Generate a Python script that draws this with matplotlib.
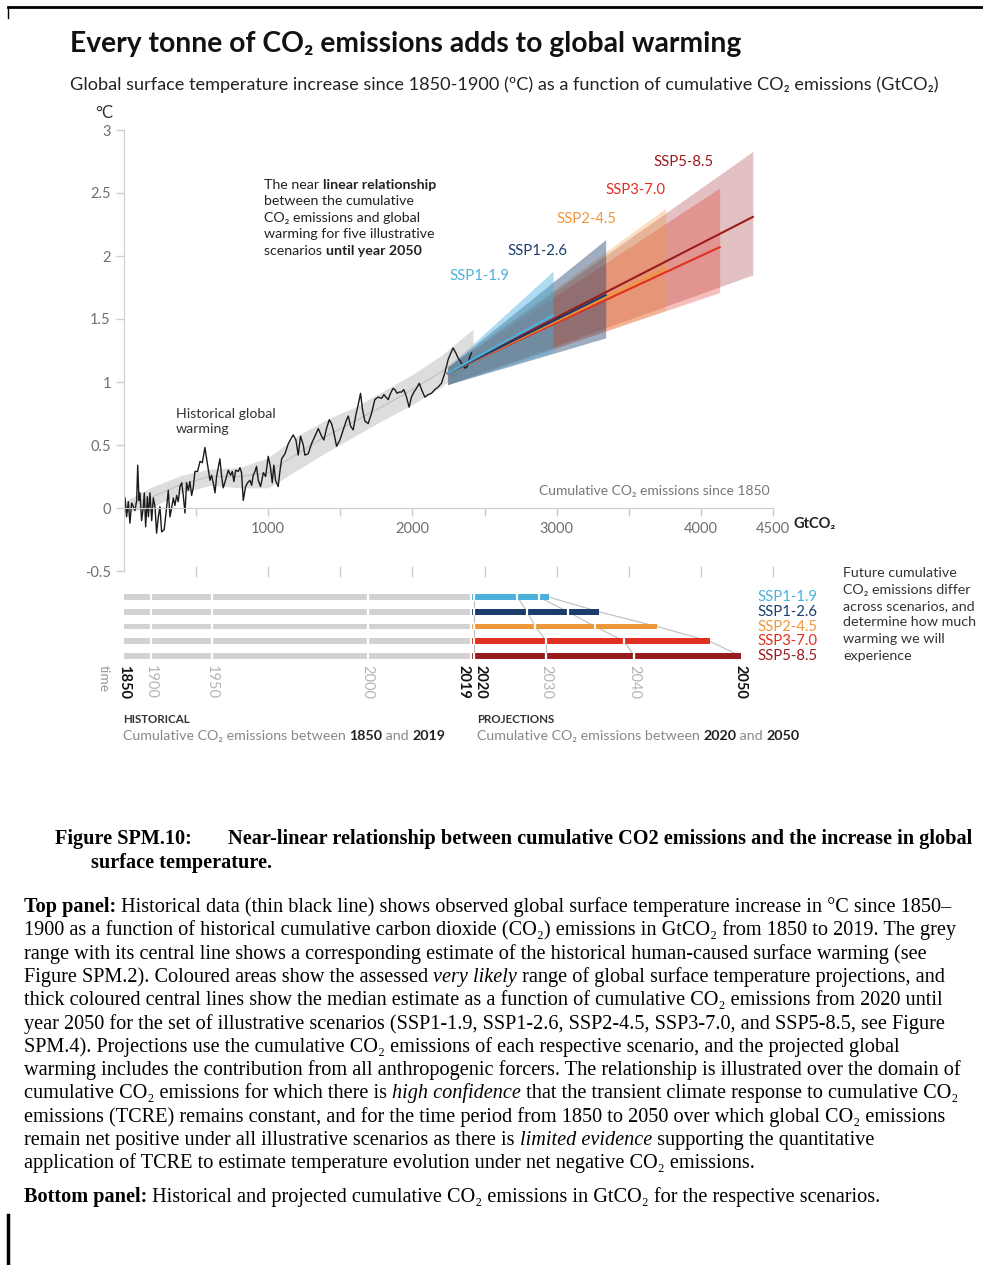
import matplotlib.pyplot as plt

plt.rcParams['font.family'] = ['Lato', 'DejaVu Sans']

# observed warming (degC) against cumulative CO2 emissions since 1850 (GtCO2)
hist_cum = [7, 18, 30, 41, 53, 65, 76, 88, 95, 104, 111, 122, 134, 141, 150, 162, 169, 180, 192, 203,
            215, 226, 238, 249, 261, 279, 296, 307, 319, 342, 353, 365, 376, 388, 400, 411, 423, 434, 446, 457,
            469, 480, 492, 510, 527, 543, 561, 580, 596, 607, 619, 631, 642, 665, 677, 688, 704, 723, 739, 751,
            762, 774, 792, 804, 815, 827, 843, 857, 873, 885, 896, 908, 919, 931, 947, 966, 982, 1000, 1016, 1028,
            1039, 1051, 1069, 1081, 1093, 1116, 1139, 1173, 1192, 1208, 1224, 1243, 1254, 1277, 1300, 1324, 1347, 1370, 1386, 1404,
            1423, 1439, 1451, 1474, 1497, 1520, 1543, 1555, 1571, 1589, 1608, 1624, 1640, 1654, 1670, 1693, 1716, 1739, 1762, 1786,
            1802, 1816, 1832, 1848, 1866, 1878, 1894, 1908, 1924, 1940, 1959, 1977, 1993, 2010, 2028, 2047, 2063, 2086, 2109, 2132,
            2155, 2178, 2201, 2224, 2248, 2266, 2282, 2301, 2317, 2340, 2363, 2379, 2398, 2409]
hist_temp = [0.08, -0.07, 0.05, -0.12, 0.04, 0.01, -0.02, 0.06, 0.34, 0.06, 0.12, -0.10, 0.01, 0.12, -0.15, 0.09, -0.07, 0.12, -0.10, 0.08,
             0.01, -0.20, -0.07, 0.01, -0.19, -0.17, 0.01, 0.14, -0.07, 0.08, 0.02, 0.10, 0.05, 0.17, 0.20, 0.10, -0.04, 0.20, 0.14, 0.21,
             0.10, 0.16, 0.29, 0.29, 0.37, 0.36, 0.48, 0.34, 0.22, 0.26, 0.20, 0.12, 0.25, 0.39, 0.25, 0.16, 0.22, 0.30, 0.26, 0.29,
             0.21, 0.30, 0.29, 0.32, 0.28, 0.06, 0.17, 0.20, 0.22, 0.18, 0.26, 0.29, 0.33, 0.22, 0.17, 0.28, 0.25, 0.41, 0.32, 0.20,
             0.34, 0.22, 0.17, 0.29, 0.39, 0.43, 0.51, 0.58, 0.54, 0.42, 0.57, 0.50, 0.42, 0.43, 0.51, 0.57, 0.63, 0.57, 0.54, 0.63,
             0.70, 0.67, 0.62, 0.49, 0.54, 0.62, 0.70, 0.73, 0.65, 0.62, 0.74, 0.82, 0.91, 0.78, 0.69, 0.67, 0.75, 0.86, 0.88, 0.87,
             0.90, 0.88, 0.86, 0.91, 0.95, 0.94, 0.91, 0.92, 0.92, 0.94, 0.88, 0.80, 0.88, 0.92, 0.95, 0.99, 0.94, 0.88, 0.90, 0.91,
             0.94, 0.96, 0.99, 1.07, 1.18, 1.23, 1.27, 1.23, 1.19, 1.15, 1.11, 1.12, 1.20, 1.23]

# human-caused warming estimate (grey range and central line)
band_cum = [0, 200, 400, 600, 800, 1000, 1200, 1400, 1600, 1800, 2000, 2200, 2420]
band_low = [-0.04, 0.01, 0.12, 0.18, 0.16, 0.16, 0.30, 0.44, 0.57, 0.70, 0.82, 0.96, 1.17]
band_mid = [0.00, 0.09, 0.19, 0.25, 0.25, 0.28, 0.43, 0.57, 0.69, 0.81, 0.94, 1.08, 1.28]
band_high = [0.05, 0.17, 0.26, 0.31, 0.32, 0.40, 0.57, 0.70, 0.80, 0.93, 1.06, 1.21, 1.42]

# projections 2020-2050
scenarios = ['SSP1-1.9', 'SSP1-2.6', 'SSP2-4.5', 'SSP3-7.0', 'SSP5-8.5']
colors = ['#4cb1dc', '#1c3c6c', '#f0963a', '#e0301f', '#981b1e']
fan_alpha = [0.45, 0.42, 0.3, 0.3, 0.27]
proj_start = 2245
start_low, start_mid, start_high = 0.98, 1.07, 1.12
proj_end = [2975, 3340, 3756, 4130, 4360]
end_low = [1.24, 1.35, 1.57, 1.71, 1.85]
end_mid = [1.53, 1.69, 1.90, 2.07, 2.31]
end_high = [1.88, 2.13, 2.38, 2.54, 2.83]
label_cum = [2467, 2869, 3209, 3548, 3881]
label_temp = [1.84, 2.04, 2.29, 2.52, 2.75]

# bottom panel: cumulative emissions reached at each year
hist_years = ['1850', '1900', '1950', '2000', '2019']
hist_year_cum = [0, 185, 610, 1690, 2400]
cum_2020 = 2430
cum_2030 = [2728, 2795, 2853, 2929, 2929]
cum_2040 = [2876, 3079, 3266, 3470, 3537]
cum_2050 = [2945, 3294, 3696, 4061, 4276]

W, H = 983, 1265
fig = plt.figure(figsize=(W / 100, H / 100), dpi=100)

# full-figure layer in pixel coordinates for text and page edges
bg = fig.add_axes([0, 0, 1, 1])
bg.set_xlim(0, W)
bg.set_ylim(H, 0)
bg.axis('off')


def box(l, t, r, b):
    return [l / W, 1 - b / H, (r - l) / W, (b - t) / H]


def rich(x, y, parts, **kw):
    prev = None
    for s, style in parts:
        props = dict(kw)
        props.update(style)
        if prev is None:
            prev = bg.text(x, y, s, va='baseline', ha='left', **props)
        else:
            prev = bg.annotate(s, xy=(1, y), xycoords=(prev, 'data'), va='baseline', ha='left', **props)
    return prev


N = {}
B = {'weight': 'bold'}
I = {'style': 'italic'}

# page edges
bg.plot([8, W], [7, 7], color='black', lw=2)
bg.plot([8, 8], [7, 18], color='black', lw=1)
bg.plot([8, 8], [1215, H], color='black', lw=2.5)

# headings
bg.text(70, 52, 'Every tonne of CO₂ emissions adds to global warming', fontsize=20.3, weight='bold', color='#111111')
bg.text(70, 90, 'Global surface temperature increase since 1850-1900 (ºC) as a function of cumulative CO₂ emissions (GtCO₂)',
        fontsize=13.1, color='#222222')

# ---------------- top panel ----------------
ax = fig.add_axes(box(124, 130, 773, 571))
ax.set_facecolor('none')
ax.set_xlim(0, 4500)
ax.set_ylim(-0.5, 3)
for s in ['top', 'right']:
    ax.spines[s].set_visible(False)
ax.spines['left'].set_color('#cccccc')
ax.spines['bottom'].set_color('#cccccc')
ax.spines['bottom'].set_position(('data', 0))
ax.spines['bottom'].set_bounds(0, 4500)

yt = [-0.5, 0, 0.5, 1, 1.5, 2, 2.5, 3]
ax.set_yticks(yt)
ax.set_yticklabels(['-0.5', '0', '0.5', '1', '1.5', '2', '2.5', '3'])
xt = [500, 1000, 1500, 2000, 2500, 3000, 3500, 4000, 4500]
ax.set_xticks(xt)
ax.set_xticklabels(['', '1000', '', '2000', '', '3000', '', '4000', '4500'])
ax.tick_params(colors='#cccccc', labelcolor='#6f6f6f', labelsize=10.5, length=6, width=1)
ax.tick_params(axis='x', pad=4)
ax.vlines(xt, -0.46, -0.55, color='#cccccc', lw=1, clip_on=False)

ax.fill_between(band_cum, band_low, band_high, color='#dddddd', lw=0)
ax.plot(band_cum, band_mid, color='#c4c4c4', lw=1)
ax.plot(hist_cum, hist_temp, color='#1a1a1a', lw=1)

for i in reversed(range(5)):
    ax.fill_between([proj_start, proj_end[i]], [start_low, end_low[i]], [start_high, end_high[i]],
                    color=colors[i], alpha=fan_alpha[i], lw=0)
for i in reversed(range(5)):
    ax.plot([proj_start, proj_end[i]], [start_mid, end_mid[i]], color=colors[i], lw=1.5)
    ax.text(label_cum[i], label_temp[i], scenarios[i], color=colors[i], fontsize=10.7, ha='center', va='center')

ax.text(-75, 3.07, '°C', fontsize=12, color='#333333', ha='right', va='bottom', clip_on=False)
ax.text(4640, -0.13, 'GtCO₂', fontsize=10.5, weight='bold', color='#222222', ha='left', va='center', clip_on=False)
ax.text(4480, 0.09, 'Cumulative CO₂ emissions since 1850', fontsize=10, color='#777777', ha='right', va='bottom')
ax.text(360, 0.69, 'Historical global\nwarming', fontsize=10.2, color='#333333', linespacing=1.3, va='center')

for k, line in enumerate([
        [('The near ', N), ('linear relationship', B)],
        [('between the cumulative', N)],
        [('CO₂ emissions and global', N)],
        [('warming for five illustrative', N)],
        [('scenarios ', N), ('until year 2050', B)]]):
    rich(264, 189 + 16.4 * k, line, fontsize=10.2, color='#222222')

# ---------------- bottom panel ----------------
axb = fig.add_axes(box(124, 582, 773, 700))
axb.set_facecolor('none')
axb.set_xlim(0, 4500)
axb.set_ylim(6.98, -1.02)
axb.axis('off')

rows = list(range(5))
bh = 0.38
for r in rows:
    axb.barh(r, hist_year_cum[-1], left=0, height=bh, color='#d2d2d2', lw=0)
    axb.barh(r, cum_2050[r] - hist_year_cum[-1] - 10, left=hist_year_cum[-1] + 10, height=bh, color=colors[r], lw=0)
    for c in hist_year_cum[1:-1] + [cum_2020, cum_2030[r], cum_2040[r]]:
        axb.vlines(c, r - bh / 2 - 0.05, r + bh / 2 + 0.05, color='white', lw=1.6)
    axb.text(4394, r, scenarios[r], color=colors[r], fontsize=10.7, ha='left', va='center', clip_on=False)

for marks in [cum_2030, cum_2040, cum_2050]:
    axb.plot(marks, rows, color='#bdbdbd', lw=0.8, zorder=0)
axb.plot([cum_2020] * 5, rows, color='#bdbdbd', lw=0.8, zorder=0)

ylab = 4.6
for name, c in zip(hist_years, hist_year_cum):
    bold = name in ('1850', '2019')
    axb.text(c, ylab, name, rotation=270, ha='right' if name == '2019' else 'center', va='top', fontsize=10.5,
             weight='bold' if bold else 'normal', color='#111111' if bold else '#b5b5b5')
proj_labels = [('2020', cum_2020 - 10, 'left'), ('2030', cum_2030[4], 'center'),
               ('2040', cum_2040[4], 'center'), ('2050', cum_2050[4], 'center')]
for name, c, ha in proj_labels:
    bold = name in ('2020', '2050')
    axb.text(c, ylab, name, rotation=270, ha=ha, va='top', fontsize=10.5,
             weight='bold' if bold else 'normal', color='#111111' if bold else '#b5b5b5')
axb.text(-140, ylab, 'time', rotation=270, ha='center', va='top', fontsize=10, color='#999999', clip_on=False)

bg.text(843, 567, 'Future cumulative\nCO₂ emissions differ\nacross scenarios, and\ndetermine how much\nwarming we will\nexperience',
        fontsize=10.3, color='#333333', va='top', linespacing=1.45)

bg.text(123, 723, 'HISTORICAL', fontsize=8.3, weight='bold', color='#333333')
rich(123, 740, [('Cumulative CO₂ emissions between ', {'color': '#888888'}), ('1850', B), (' and ', {'color': '#888888'}),
                ('2019', B)], fontsize=10.3, color='#222222')
bg.text(477, 723, 'PROJECTIONS', fontsize=8.3, weight='bold', color='#333333')
rich(477, 740, [('Cumulative CO₂ emissions between ', {'color': '#888888'}), ('2020', B), (' and ', {'color': '#888888'}),
                ('2050', B)], fontsize=10.3, color='#222222')

# ---------------- caption ----------------
serif = ['Liberation Serif', 'DejaVu Serif']
cs = 14.6
bg.text(55, 844, 'Figure SPM.10:', family=serif, fontsize=cs, weight='bold')
bg.text(228, 844, 'Near-linear relationship between cumulative CO2 emissions and the increase in global',
        family=serif, fontsize=cs, weight='bold')
bg.text(91, 868, 'surface temperature.', family=serif, fontsize=cs, weight='bold')

caption = [
    [('Top panel:', B), (' Historical data (thin black line) shows observed global surface temperature increase in °C since 1850–', N)],
    [('1900 as a function of historical cumulative carbon dioxide (CO₂) emissions in GtCO₂ from 1850 to 2019. The grey', N)],
    [('range with its central line shows a corresponding estimate of the historical human-caused surface warming (see', N)],
    [('Figure SPM.2). Coloured areas show the assessed ', N), ('very likely', I),
     (' range of global surface temperature projections, and', N)],
    [('thick coloured central lines show the median estimate as a function of cumulative CO₂ emissions from 2020 until', N)],
    [('year 2050 for the set of illustrative scenarios (SSP1-1.9, SSP1-2.6, SSP2-4.5, SSP3-7.0, and SSP5-8.5, see Figure', N)],
    [('SPM.4). Projections use the cumulative CO₂ emissions of each respective scenario, and the projected global', N)],
    [('warming includes the contribution from all anthropogenic forcers. The relationship is illustrated over the domain of', N)],
    [('cumulative CO₂ emissions for which there is ', N), ('high confidence', I),
     (' that the transient climate response to cumulative CO₂', N)],
    [('emissions (TCRE) remains constant, and for the time period from 1850 to 2050 over which global CO₂ emissions', N)],
    [('remain net positive under all illustrative scenarios as there is ', N), ('limited evidence', I),
     (' supporting the quantitative', N)],
    [('application of TCRE to estimate temperature evolution under net negative CO₂ emissions.', N)],
]
for k, line in enumerate(caption):
    rich(24, 912 + 23.3 * k, line, family=serif, fontsize=cs, color='black')
rich(24, 1202, [('Bottom panel:', B), (' Historical and projected cumulative CO₂ emissions in GtCO₂ for the respective scenarios.', N)],
     family=serif, fontsize=cs, color='black')

fig.savefig('out.png', dpi=100, facecolor='white')
